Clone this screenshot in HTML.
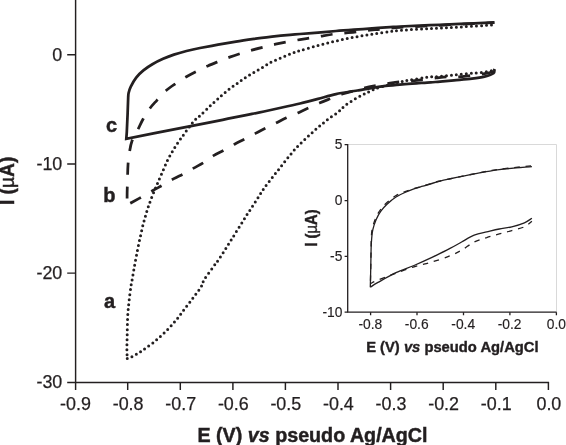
<!DOCTYPE html>
<html><head><meta charset="utf-8"><title>CV plot</title>
<style>html,body{margin:0;padding:0;background:#fff}svg{display:block}</style></head>
<body>
<svg width="566" height="445" viewBox="0 0 566 445">
<rect width="566" height="445" fill="#fff"/>
<g stroke="#231f20" stroke-width="1.45" fill="none">
<path d="M75.6 0V390M67.2 382.5H549.1"/>
<path d="M127.7 382.5V390M180.3 382.5V390M232.9 382.5V390M285.4 382.5V390M338.0 382.5V390M390.6 382.5V390M443.2 382.5V390M495.8 382.5V390M548.4 382.5V390M67.2 54.7H75.6M67.2 163.9H75.6M67.2 273.1H75.6"/>
</g>
<g font-family="'Liberation Sans', Arial, sans-serif" font-size="17.9" fill="#231f20" stroke="#231f20" stroke-width="0.25">
<text x="75.5" y="409.7" text-anchor="middle">-0.9</text>
<text x="128.1" y="409.7" text-anchor="middle">-0.8</text>
<text x="180.7" y="409.7" text-anchor="middle">-0.7</text>
<text x="233.3" y="409.7" text-anchor="middle">-0.6</text>
<text x="285.8" y="409.7" text-anchor="middle">-0.5</text>
<text x="338.4" y="409.7" text-anchor="middle">-0.4</text>
<text x="391.0" y="409.7" text-anchor="middle">-0.3</text>
<text x="443.6" y="409.7" text-anchor="middle">-0.2</text>
<text x="496.2" y="409.7" text-anchor="middle">-0.1</text>
<text x="548.9" y="409.7" text-anchor="middle">0.0</text>
<text x="62.3" y="60.9" text-anchor="end">0</text>
<text x="62.3" y="170.1" text-anchor="end">-10</text>
<text x="62.3" y="279.3" text-anchor="end">-20</text>
<text x="62.3" y="388.0" text-anchor="end">-30</text>
</g>
<g font-family="'Liberation Sans', Arial, sans-serif" font-weight="bold" fill="#231f20" stroke="#231f20" stroke-width="0.45">
<text x="312.5" y="441.8" font-size="19.7" text-anchor="middle">E (V) <tspan font-style="italic">vs</tspan> pseudo Ag/AgCl</text>
<text transform="translate(14.2 180.9) rotate(-90) scale(1,1.04)" font-size="19.2" text-anchor="middle">I (<tspan font-weight="normal">µ</tspan>A)</text>
<text x="104.0" y="307.5" font-size="20">a</text>
<text x="103.3" y="201.8" font-size="20">b</text>
<text x="105.9" y="131.6" font-size="20">c</text>
</g>
<g fill="none" stroke="#231f20" stroke-width="2.75" stroke-linejoin="miter">
<path d="M494.4 68.8C494.2 69.5 495.1 72.0 493.5 73.3C491.9 74.6 488.1 75.7 484.5 76.6C480.9 77.5 477.1 78.0 472.0 78.6C466.9 79.2 459.3 79.8 454.0 80.3C448.7 80.8 443.9 81.2 440.0 81.6C436.1 81.9 434.6 82.1 430.7 82.4C426.8 82.7 421.2 83.0 416.5 83.3C411.8 83.6 407.1 83.9 402.4 84.3C397.7 84.7 393.0 85.2 388.3 85.7C383.6 86.2 378.8 86.9 374.1 87.6C369.4 88.3 363.4 89.5 360.0 90.1C356.6 90.7 358.0 90.3 354.0 91.0C350.0 91.7 342.0 92.8 336.0 94.1C330.0 95.4 324.0 97.3 318.0 98.9C312.0 100.5 306.0 102.1 300.0 103.5C294.0 104.9 288.0 106.2 282.0 107.5C276.0 108.8 270.0 110.2 264.0 111.5C258.0 112.8 252.0 113.9 246.0 115.1C240.0 116.3 234.0 117.5 228.0 118.7C222.0 119.9 219.0 120.6 210.0 122.4C201.0 124.2 187.9 126.7 174.0 129.4C160.1 132.1 134.2 137.2 126.3 138.8L126.8 132.0L127.6 114.0L128.2 97.0C128.3 96.3 128.2 94.7 128.6 93.0C129.0 91.3 129.5 89.2 130.8 86.6C132.1 84.0 134.1 80.3 136.2 77.6C138.3 74.9 140.7 72.6 143.4 70.4C146.1 68.2 149.1 66.1 152.4 64.2C155.7 62.3 159.5 60.4 163.1 58.8C166.7 57.2 170.0 55.9 173.9 54.6C177.8 53.3 182.2 52.1 186.5 51.0C190.8 49.9 194.8 49.0 200.0 48.0C205.2 47.0 212.0 45.8 218.0 44.7C224.0 43.7 230.0 42.7 236.0 41.7C242.0 40.7 248.0 39.8 254.0 38.9C260.0 38.0 266.0 37.3 272.0 36.6C278.0 35.9 285.3 35.2 290.0 34.8C294.7 34.4 295.3 34.4 300.0 34.0C304.7 33.6 312.0 33.1 318.0 32.6C324.0 32.1 330.0 31.5 336.0 31.0C342.0 30.5 348.0 30.1 354.0 29.7C360.0 29.3 366.0 28.8 372.0 28.4C378.0 28.0 385.3 27.4 390.0 27.1C394.7 26.8 393.3 26.8 400.0 26.5C406.7 26.2 420.0 25.6 430.0 25.2C440.0 24.8 449.3 24.4 460.0 23.9C470.7 23.4 488.7 22.6 494.4 22.3"/>
<path d="M494.2 69.5C494.1 69.8 495.6 70.7 493.5 71.5C491.4 72.3 485.6 73.5 481.8 74.2C478.1 74.9 474.9 75.0 471.0 75.4C467.1 75.9 462.5 76.7 458.5 76.9C454.5 77.2 450.7 76.7 447.0 76.9C443.3 77.1 440.2 77.5 436.3 77.9C432.4 78.4 427.6 79.1 423.6 79.6C419.6 80.1 416.4 80.5 412.3 80.9C408.2 81.3 403.0 81.5 398.9 81.9C394.8 82.3 391.5 82.9 387.6 83.5C383.7 84.1 379.3 84.9 375.5 85.6C371.7 86.3 368.8 86.8 364.9 87.8C361.0 88.8 356.0 90.3 352.2 91.3C348.4 92.3 345.9 92.8 342.3 94.0C338.7 95.2 334.4 97.1 330.6 98.6C326.8 100.1 323.1 101.5 319.4 103.1C315.7 104.6 312.2 106.3 308.6 107.9C305.0 109.5 301.5 111.2 297.8 112.9C294.1 114.6 290.1 116.1 286.4 117.8C282.7 119.5 279.1 121.5 275.6 123.2C272.1 124.9 268.8 126.5 265.4 128.2C262.0 129.9 258.4 131.8 255.0 133.6C251.6 135.4 248.1 137.2 244.7 139.0C241.3 140.8 238.0 142.4 234.6 144.2C231.2 146.0 227.8 148.1 224.4 150.0C221.0 151.9 217.4 153.3 214.0 155.4C210.6 157.5 207.4 160.3 204.0 162.4C200.6 164.5 197.1 166.2 193.7 168.1C190.3 170.0 187.2 171.9 183.8 173.7C180.4 175.5 176.8 177.0 173.4 178.9C170.0 180.8 166.5 183.0 163.2 184.9C159.8 186.8 156.9 188.3 153.3 190.3C149.8 192.3 145.5 194.9 141.9 196.9C138.3 198.9 134.1 201.2 131.7 202.5C129.2 203.8 128.0 204.2 127.2 204.6" stroke-dasharray="11.9 11.85" stroke-dashoffset="21.05"/>
<path d="M127.2 204.6C127.2 203.2 127.1 199.2 127.1 196.3C127.1 193.4 127.1 192.2 127.3 187.0C127.5 181.8 127.6 170.8 128.0 165.0C128.4 159.2 128.8 156.0 129.5 152.0C130.2 148.0 130.6 144.8 132.0 141.0C133.4 137.2 136.1 132.9 138.0 129.2C139.9 125.4 141.5 121.9 143.4 118.5C145.3 115.1 147.4 111.6 149.7 108.6C151.9 105.6 154.2 103.3 156.9 100.3C159.6 97.3 162.6 93.6 165.8 90.8C169.0 88.0 172.6 85.7 176.0 83.4C179.4 81.1 182.9 78.8 186.4 76.8C189.9 74.8 193.5 72.9 197.1 71.1C200.7 69.3 204.2 67.5 207.8 65.9C211.4 64.3 215.2 62.8 218.9 61.3C222.6 59.8 225.9 58.5 229.7 57.1C233.4 55.8 237.6 54.4 241.4 53.2C245.2 52.0 248.9 51.0 252.7 49.9C256.5 48.8 260.6 47.8 264.4 46.9C268.2 46.0 271.6 45.1 275.5 44.2C279.4 43.4 283.5 42.6 287.6 41.8C291.7 41.0 296.1 40.2 300.0 39.6C303.9 39.0 307.4 38.5 311.2 37.9C315.0 37.3 319.1 36.4 323.0 35.8C326.9 35.1 330.6 34.5 334.5 34.0C338.4 33.5 342.4 33.3 346.4 32.9C350.4 32.5 354.6 32.1 358.5 31.6C362.4 31.2 366.4 30.6 370.1 30.2C373.9 29.8 376.0 29.7 381.0 29.2C386.0 28.7 391.8 28.0 400.0 27.4C408.2 26.8 420.0 26.3 430.0 25.8C440.0 25.3 449.3 24.8 460.0 24.3C470.7 23.8 488.7 22.9 494.4 22.6" stroke-dasharray="11.9 11.85" stroke-dashoffset="17.6"/>
<path d="M493.9 68.8C493.2 69.2 493.6 70.5 490.0 71.2C486.4 72.0 478.0 72.7 472.0 73.3C466.0 73.9 459.6 74.4 454.0 74.9C448.4 75.5 441.8 76.3 438.4 76.6C435.0 76.9 435.9 76.5 433.5 76.7C431.1 76.9 428.2 77.1 424.3 77.7C420.4 78.3 413.4 79.6 410.2 80.1C407.0 80.6 406.8 80.6 405.2 80.9C403.6 81.2 403.2 81.2 400.3 81.9C397.4 82.6 392.0 83.9 388.0 85.0C384.0 86.1 379.1 87.3 376.3 88.3C373.5 89.3 373.0 90.0 371.3 90.8C369.6 91.6 367.9 92.5 366.4 93.2C364.9 93.9 364.2 94.0 362.1 95.1C360.0 96.2 356.9 97.8 354.0 99.6C351.1 101.3 347.6 103.5 345.0 105.6C342.4 107.7 341.1 109.6 338.1 112.0C335.2 114.4 330.8 117.1 327.3 119.8C323.9 122.5 320.7 125.2 317.4 128.0C314.1 130.8 310.9 133.8 307.6 136.8C304.3 139.9 300.9 143.0 297.7 146.3C294.5 149.6 291.7 153.2 288.7 156.8C285.7 160.5 282.5 164.6 279.7 168.2C276.9 171.8 274.3 174.8 271.6 178.3C268.9 181.8 265.8 185.8 263.5 189.1C261.2 192.4 260.8 193.4 257.9 198.0C255.0 202.6 250.2 209.7 245.9 216.4C241.7 223.1 236.7 231.1 232.4 238.0C228.1 244.9 223.2 252.9 220.0 257.6C216.8 262.4 216.1 262.9 213.5 266.5C210.9 270.1 206.6 275.7 204.5 279.1C202.4 282.6 202.7 284.2 200.9 287.2C199.1 290.2 196.4 293.5 193.7 297.1C191.0 300.7 187.7 304.9 184.7 308.8C181.7 312.7 179.1 316.6 175.8 320.5C172.5 324.4 168.8 328.5 165.0 332.2C161.2 335.9 157.2 339.5 153.3 342.6C149.4 345.7 145.1 348.7 141.6 351.0C138.1 353.3 135.0 355.2 132.6 356.4C130.2 357.6 128.1 358.1 127.2 358.4" stroke-dasharray="0 5" stroke-width="3.0" stroke-linecap="round" stroke-dashoffset="1.5"/>
<path d="M127.2 358.4C127.2 356.7 126.9 352.4 126.9 348.3C126.9 344.2 127.1 339.4 127.2 334.0C127.3 328.6 127.4 321.4 127.7 316.0C128.0 310.6 128.5 306.4 129.0 301.6C129.5 296.8 130.3 290.9 130.8 287.2C131.3 283.5 131.6 282.9 132.2 279.5C132.8 276.1 133.6 271.1 134.4 266.5C135.2 261.9 136.2 257.0 137.1 252.2C138.0 247.4 139.0 242.6 140.1 237.8C141.2 233.0 142.2 227.9 143.4 223.4C144.6 218.9 145.8 214.8 147.0 210.8C148.2 206.8 149.4 203.6 150.9 199.5C152.4 195.4 154.4 190.8 156.2 186.5C158.0 182.2 159.6 178.5 161.6 174.0C163.6 169.5 165.7 164.1 167.9 159.6C170.2 155.1 172.6 151.1 175.1 147.0C177.6 142.9 180.6 138.9 183.2 135.3C185.8 131.7 188.4 128.0 190.4 125.4C192.4 122.9 193.5 121.5 194.9 120.0C196.3 118.5 196.6 118.9 199.1 116.6C201.6 114.3 206.2 109.7 209.9 106.2C213.6 102.8 217.9 98.7 221.1 95.9C224.3 93.1 226.5 91.3 229.2 89.2C231.9 87.1 234.5 85.4 237.3 83.4C240.1 81.4 242.9 79.2 245.8 77.3C248.7 75.4 251.7 73.7 254.6 72.0C257.5 70.3 260.5 68.6 263.4 66.9C266.3 65.2 267.6 63.9 272.0 61.8C276.4 59.7 285.3 56.0 290.0 54.1C294.7 52.2 295.3 52.0 300.0 50.6C304.7 49.2 312.0 47.1 318.0 45.5C324.0 43.9 330.0 42.4 336.0 41.0C342.0 39.6 348.0 38.3 354.0 37.2C360.0 36.1 366.0 35.2 372.0 34.2C378.0 33.2 385.0 32.2 390.0 31.5C395.0 30.8 395.1 30.7 401.8 30.2C408.5 29.7 420.3 29.2 430.0 28.7C439.7 28.2 449.4 27.6 460.0 27.0C470.6 26.4 487.9 25.2 493.5 24.9" stroke-dasharray="0 5" stroke-width="3.0" stroke-linecap="round" stroke-dashoffset="1.2"/>
</g>
<path d="M347.7 144.5H556.5V312.2" fill="none" stroke="#d9d9d9" stroke-width="1"/>
<g stroke="#231f20" stroke-width="1.3" fill="none">
<path d="M347.7 144.1V312.2H556.5"/>
<path d="M556.4 312.2V315.3M509.9 312.2V315.3M463.5 312.2V315.3M417.0 312.2V315.3M370.6 312.2V315.3M344.6 144.6H347.7M344.6 200.6H347.7M344.6 256.3H347.7M344.6 312.2H347.7"/>
</g>
<g font-family="'Liberation Sans', Arial, sans-serif" font-size="13.8" fill="#231f20" stroke="#231f20" stroke-width="0.15">
<text x="556.4" y="329.1" text-anchor="middle">0.0</text>
<text x="509.6" y="329.1" text-anchor="middle">-0.2</text>
<text x="463.2" y="329.1" text-anchor="middle">-0.4</text>
<text x="416.7" y="329.1" text-anchor="middle">-0.6</text>
<text x="370.3" y="329.1" text-anchor="middle">-0.8</text>
<text x="342.4" y="149.4" text-anchor="end">5</text>
<text x="342.4" y="205.4" text-anchor="end">0</text>
<text x="342.4" y="261.1" text-anchor="end">-5</text>
<text x="342.4" y="317.0" text-anchor="end">-10</text>
</g>
<g font-family="'Liberation Sans', Arial, sans-serif" font-weight="bold" fill="#231f20" stroke="#231f20" stroke-width="0.4" font-size="14.75">
<text x="452.4" y="351.9" text-anchor="middle">E (V) <tspan font-style="italic">vs</tspan> pseudo Ag/AgCl</text>
<text transform="translate(316.5 228.0) rotate(-90) scale(1,1.06)" text-anchor="middle">I (<tspan font-weight="normal">µ</tspan>A)</text>
</g>
<g fill="none" stroke="#231f20" stroke-width="1.3" stroke-linejoin="miter">
<path d="M370.3 287.2C370.4 283.5 370.7 271.4 370.8 265.0C370.9 258.6 371.0 253.5 371.1 249.1C371.2 244.7 371.4 241.6 371.7 238.3C372.0 235.0 372.1 232.5 372.9 229.3C373.6 226.2 374.9 222.4 376.2 219.4C377.5 216.4 378.9 213.8 380.7 211.3C382.5 208.8 384.4 206.6 387.0 204.2C389.6 201.8 393.0 198.9 396.0 197.0C399.0 195.1 401.9 193.8 404.9 192.5C407.9 191.2 410.9 190.0 413.9 188.9C416.9 187.8 419.9 187.1 422.9 186.2C425.9 185.3 429.0 184.3 431.9 183.5C434.8 182.7 437.1 181.8 440.0 181.1C442.9 180.3 443.4 180.2 449.1 179.0C454.8 177.8 465.8 175.5 474.2 173.9C482.6 172.3 489.7 170.8 499.3 169.6C508.9 168.4 526.5 167.1 531.9 166.6M531.9 218.3C530.6 219.1 527.8 221.4 524.4 222.8C521.0 224.2 516.0 225.8 511.8 226.8C507.6 227.8 503.5 228.2 499.3 229.0C495.1 229.8 490.9 230.9 486.7 231.9C482.5 232.9 478.4 233.5 474.2 235.2C470.0 236.9 465.6 239.8 461.6 242.0C457.6 244.2 454.9 245.8 450.0 248.4C445.1 251.0 438.0 254.5 432.0 257.4C426.0 260.2 420.0 262.9 414.0 265.5C408.0 268.1 402.0 269.9 396.0 272.7C390.0 275.5 382.3 280.0 378.0 282.4C373.7 284.8 371.6 286.4 370.3 287.2"/>
<path d="M370.4 283.6C370.5 279.7 370.8 265.8 370.9 260.0C371.0 254.2 371.0 252.7 371.1 249.0C371.2 245.3 371.1 241.3 371.3 238.0C371.5 234.7 371.5 232.2 372.2 229.0C372.9 225.8 374.1 221.9 375.4 218.8C376.7 215.7 378.1 213.1 379.9 210.5C381.7 207.9 383.6 205.7 386.2 203.3C388.8 200.9 392.2 197.9 395.3 196.0C398.4 194.1 401.4 193.0 404.5 191.8C407.6 190.6 410.8 189.6 413.9 188.6C417.0 187.6 419.9 186.9 422.9 186.0C425.9 185.1 429.0 184.2 431.9 183.4C434.8 182.6 432.9 182.6 440.0 181.0C447.1 179.4 464.3 175.8 474.2 173.8C484.1 171.9 489.7 170.6 499.3 169.3C508.9 168.0 526.5 166.4 531.9 165.8" stroke-dasharray="5.5 5.86" stroke-dashoffset="8.5"/>
<path d="M531.9 221.3C530.6 222.2 527.8 225.2 524.4 226.8C521.0 228.4 516.0 229.4 511.8 230.6C507.6 231.8 503.5 232.7 499.3 233.9C495.1 235.1 490.9 236.2 486.7 237.6C482.5 238.9 478.4 239.9 474.2 242.0C470.0 244.1 465.6 247.9 461.6 250.2C457.6 252.5 454.9 253.8 450.0 255.8C445.1 257.8 438.0 260.2 432.0 262.0C426.0 263.8 420.3 264.8 414.0 266.8C407.7 268.8 400.2 271.6 394.2 273.8C388.2 276.0 382.0 278.5 378.0 280.1C374.0 281.7 371.7 283.0 370.4 283.6" stroke-dasharray="5.5 5.86" stroke-dashoffset="0.8"/>
</g>
</svg>
</body></html>
